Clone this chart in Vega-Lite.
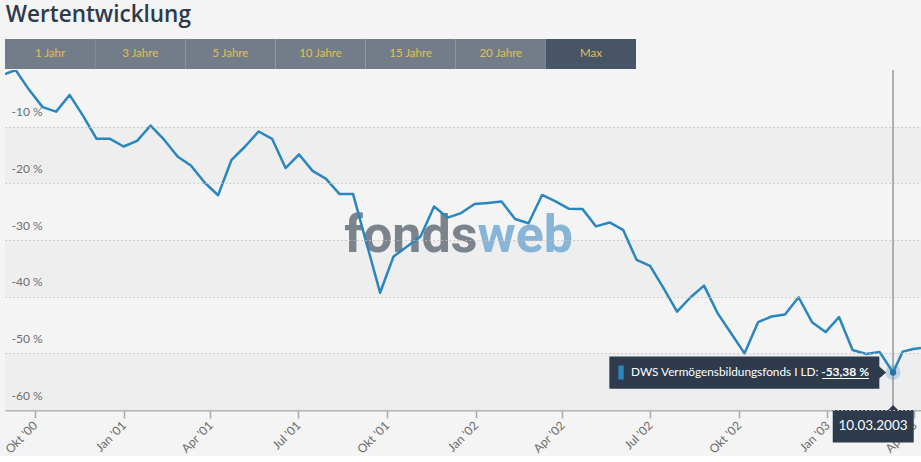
{
  "$schema": "https://vega.github.io/schema/vega-lite/v6.json",
  "background": "#f4f4f4",
  "padding": {"left": 2, "top": 4, "right": 0, "bottom": 0},
  "title": {"text": "Wertentwicklung", "anchor": "start", "font": "Open Sans", "fontSize": 22.5, "fontWeight": 600, "color": "#2d3a4b", "offset": 12.5, "dx": 3},
  "spacing": 0,
  "config": {"view": {"stroke": null}, "font": "Lato"},
  "datasets": {
    "buttons": [
      {"label": "1 Jahr", "state": "inaktiv"},
      {"label": "3 Jahre", "state": "inaktiv"},
      {"label": "5 Jahre", "state": "inaktiv"},
      {"label": "10 Jahre", "state": "inaktiv"},
      {"label": "15 Jahre", "state": "inaktiv"},
      {"label": "20 Jahre", "state": "inaktiv"},
      {"label": "Max", "state": "aktiv"}
    ],
    "bands": [
      {"top": -10, "bottom": -20},
      {"top": -30, "bottom": -40},
      {"top": -50, "bottom": -60}
    ],
    "series": [
      {"date": "2000-08-31", "value": -0.7},
      {"date": "2000-09-11", "value": 0.0},
      {"date": "2000-09-25", "value": -3.5},
      {"date": "2000-10-09", "value": -6.55},
      {"date": "2000-10-23", "value": -7.35},
      {"date": "2000-11-06", "value": -4.4},
      {"date": "2000-11-20", "value": -8.1},
      {"date": "2000-12-04", "value": -12.15},
      {"date": "2000-12-18", "value": -12.15},
      {"date": "2001-01-01", "value": -13.5},
      {"date": "2001-01-15", "value": -12.5},
      {"date": "2001-01-29", "value": -9.8},
      {"date": "2001-02-12", "value": -12.3},
      {"date": "2001-02-26", "value": -15.25},
      {"date": "2001-03-12", "value": -16.9},
      {"date": "2001-03-26", "value": -19.85},
      {"date": "2001-04-09", "value": -22.1},
      {"date": "2001-04-23", "value": -15.85},
      {"date": "2001-05-07", "value": -13.5},
      {"date": "2001-05-21", "value": -10.85},
      {"date": "2001-06-04", "value": -12.15},
      {"date": "2001-06-18", "value": -17.3},
      {"date": "2001-07-02", "value": -14.9},
      {"date": "2001-07-16", "value": -17.8},
      {"date": "2001-07-30", "value": -19.2},
      {"date": "2001-08-13", "value": -21.9},
      {"date": "2001-08-27", "value": -21.9},
      {"date": "2001-09-10", "value": -30.6},
      {"date": "2001-09-24", "value": -39.3},
      {"date": "2001-10-08", "value": -32.9},
      {"date": "2001-10-22", "value": -31.15},
      {"date": "2001-11-05", "value": -29.4},
      {"date": "2001-11-19", "value": -24.1},
      {"date": "2001-12-03", "value": -26.05},
      {"date": "2001-12-17", "value": -25.25},
      {"date": "2001-12-31", "value": -23.65},
      {"date": "2002-01-14", "value": -23.45},
      {"date": "2002-01-28", "value": -23.2},
      {"date": "2002-02-11", "value": -26.3},
      {"date": "2002-02-25", "value": -27.05},
      {"date": "2002-03-11", "value": -22.05},
      {"date": "2002-03-25", "value": -23.2},
      {"date": "2002-04-08", "value": -24.5},
      {"date": "2002-04-22", "value": -24.55},
      {"date": "2002-05-06", "value": -27.6},
      {"date": "2002-05-20", "value": -26.9},
      {"date": "2002-06-03", "value": -28.2},
      {"date": "2002-06-17", "value": -33.5},
      {"date": "2002-07-01", "value": -34.55},
      {"date": "2002-07-15", "value": -38.5},
      {"date": "2002-07-29", "value": -42.65},
      {"date": "2002-08-12", "value": -40.1},
      {"date": "2002-08-26", "value": -38.05},
      {"date": "2002-09-09", "value": -42.9},
      {"date": "2002-09-23", "value": -46.45},
      {"date": "2002-10-07", "value": -50.0},
      {"date": "2002-10-21", "value": -44.5},
      {"date": "2002-11-04", "value": -43.5},
      {"date": "2002-11-18", "value": -43.15},
      {"date": "2002-12-02", "value": -40.1},
      {"date": "2002-12-16", "value": -44.5},
      {"date": "2002-12-30", "value": -46.25},
      {"date": "2003-01-13", "value": -43.6},
      {"date": "2003-01-27", "value": -49.4},
      {"date": "2003-02-10", "value": -50.1},
      {"date": "2003-02-24", "value": -49.75},
      {"date": "2003-03-10", "value": -53.38},
      {"date": "2003-03-20", "value": -49.7},
      {"date": "2003-03-31", "value": -49.25},
      {"date": "2003-04-08", "value": -49.05}
    ],
    "hover": [
      {"date": "2003-03-10", "value": -53.38, "name": "DWS Vermögensbildungsfonds I LD:", "valueText": "-53,38 %", "dateText": "10.03.2003"}
    ]
  },
  "vconcat": [
    {
      "width": 631,
      "height": 30,
      "data": {"name": "buttons"},
      "encoding": {
        "x": {"field": "label", "type": "nominal", "sort": null, "scale": {"paddingInner": 0, "paddingOuter": 0}, "axis": null}
      },
      "layer": [
        {
          "mark": {"type": "rect"},
          "encoding": {
            "color": {"field": "state", "type": "nominal", "scale": {"domain": ["inaktiv", "aktiv"], "range": ["#737d89", "#475566"]}, "legend": null}
          }
        },
        {
          "mark": {"type": "text", "font": "Lato", "fontSize": 11.5, "color": "#e2bf55"},
          "encoding": {"text": {"field": "label"}}
        }
      ]
    },
    {
      "width": 916,
      "height": 340,
      "layer": [
        {
          "data": {"name": "bands"},
          "mark": {"type": "rect", "color": "#eeeeee"},
          "encoding": {
            "y": {
              "field": "top", "type": "quantitative",
              "scale": {"domain": [-60, 0], "nice": false, "zero": false},
              "axis": {
                "values": [-10, -20, -30, -40, -50, -60],
                "labelExpr": "datum.value + ' %'",
                "labelAlign": "left",
                "labelBaseline": "alphabetic",
                "labelPadding": -6,
                "labelOffset": -11,
                "ticks": false,
                "domain": false,
                "grid": true,
                "gridColor": "#c2c2c2",
                "gridDash": [1.5, 2.5],
                "gridWidth": 1,
                "labelColor": "#6e6e6e",
                "labelFontSize": 12,
                "labelFont": "Lato",
                "title": null,
                "zindex": 1
              }
            },
            "y2": {"field": "bottom"}
          }
        },
        {
          "data": {"values": [{"t": "fonds"}]},
          "mark": {"type": "text", "font": "Roboto", "fontWeight": "bold", "fontSize": 52, "align": "right", "baseline": "alphabetic", "color": "#7b838c"},
          "encoding": {
            "x": {"datum": {"year": 2002, "month": 1, "date": 3}, "type": "temporal"},
            "y": {"datum": -32.1, "type": "quantitative"},
            "text": {"field": "t"}
          }
        },
        {
          "data": {"values": [{"t": "web"}]},
          "mark": {"type": "text", "font": "Roboto", "fontWeight": "bold", "fontSize": 52, "align": "left", "baseline": "alphabetic", "color": "#86b5d7"},
          "encoding": {
            "x": {"datum": {"year": 2002, "month": 1, "date": 3}, "type": "temporal"},
            "y": {"datum": -32.1, "type": "quantitative"},
            "text": {"field": "t"}
          }
        },
        {
          "data": {"name": "series"},
          "mark": {"type": "line", "color": "#2a86bf", "strokeWidth": 2.5, "strokeJoin": "round", "clip": true},
          "encoding": {
            "x": {
              "field": "date", "type": "temporal",
              "scale": {"domain": [{"year": 2000, "month": 8, "date": 31}, {"year": 2003, "month": 4, "date": 8}]},
              "axis": {
                "values": [
                  {"year": 2000, "month": 10, "date": 1},
                  {"year": 2001, "month": 1, "date": 1},
                  {"year": 2001, "month": 4, "date": 1},
                  {"year": 2001, "month": 7, "date": 1},
                  {"year": 2001, "month": 10, "date": 1},
                  {"year": 2002, "month": 1, "date": 1},
                  {"year": 2002, "month": 4, "date": 1},
                  {"year": 2002, "month": 7, "date": 1},
                  {"year": 2002, "month": 10, "date": 1},
                  {"year": 2003, "month": 1, "date": 1},
                  {"year": 2003, "month": 4, "date": 1}
                ],
                "labelExpr": "(month(datum.value)==0?'Jan':month(datum.value)==3?'Apr':month(datum.value)==6?'Jul':'Okt') + \" '\" + timeFormat(datum.value,'%y')",
                "labelAngle": -45,
                "labelAlign": "right",
                "labelBaseline": "middle",
                "labelFontSize": 12,
                "labelFont": "Lato",
                "labelColor": "#6b6b6b",
                "labelPadding": 5,
                "domainColor": "#a9aeb4",
                "domainWidth": 2,
                "tickColor": "#a9aeb4",
                "tickWidth": 1.5,
                "tickSize": 8,
                "grid": false,
                "title": null
              }
            },
            "y": {"field": "value", "type": "quantitative", "title": null}
          }
        },
        {
          "data": {"name": "hover"},
          "mark": {"type": "rule", "color": "#7d8288", "strokeWidth": 1.2},
          "encoding": {"x": {"field": "date", "type": "temporal"}}
        },
        {
          "data": {"name": "hover"},
          "mark": {"type": "point", "filled": true, "size": 230, "color": "#2a86bf", "opacity": 0.25, "strokeWidth": 0},
          "encoding": {"x": {"field": "date", "type": "temporal"}, "y": {"field": "value", "type": "quantitative"}}
        },
        {
          "data": {"name": "hover"},
          "mark": {"type": "point", "filled": true, "size": 40, "color": "#2571a8", "opacity": 1, "strokeWidth": 0},
          "encoding": {"x": {"field": "date", "type": "temporal"}, "y": {"field": "value", "type": "quantitative"}}
        },
        {
          "data": {"name": "hover"},
          "mark": {"type": "point", "filled": true, "size": 40000, "color": "#2d3b4d", "opacity": 1, "strokeWidth": 0,
            "shape": "M-2.837,-0.16 L-0.137,-0.16 L-0.137,-0.06 L-0.07,0 L-0.137,0.06 L-0.137,0.163 L-2.837,0.163 Z"},
          "encoding": {"x": {"field": "date", "type": "temporal"}, "y": {"field": "value", "type": "quantitative"}}
        },
        {
          "data": {"name": "hover"},
          "mark": {"type": "point", "filled": true, "size": 40000, "color": "#2a86bf", "opacity": 1, "strokeWidth": 0,
            "shape": "M-2.747,-0.07 L-2.693,-0.07 L-2.693,0.07 L-2.747,0.07 Z"},
          "encoding": {"x": {"field": "date", "type": "temporal"}, "y": {"field": "value", "type": "quantitative"}}
        },
        {
          "data": {"name": "hover"},
          "mark": {"type": "text", "font": "Lato", "fontSize": 11.8, "color": "#ffffff", "align": "left", "baseline": "middle", "dx": -262},
          "encoding": {"x": {"field": "date", "type": "temporal"}, "y": {"field": "value", "type": "quantitative"}, "text": {"field": "name"}}
        },
        {
          "data": {"name": "hover"},
          "mark": {"type": "text", "font": "Lato", "fontSize": 12, "fontWeight": "bold", "color": "#ffffff", "align": "right", "baseline": "middle", "dx": -24},
          "encoding": {"x": {"field": "date", "type": "temporal"}, "y": {"field": "value", "type": "quantitative"}, "text": {"field": "valueText"}}
        },
        {
          "data": {"name": "hover"},
          "mark": {"type": "point", "filled": false, "size": 40000, "stroke": "#ffffff", "strokeWidth": 1, "opacity": 1,
            "shape": "M-0.71,0.06 L-0.24,0.06"},
          "encoding": {"x": {"field": "date", "type": "temporal"}, "y": {"field": "value", "type": "quantitative"}}
        },
        {
          "data": {"name": "hover"},
          "mark": {"type": "point", "filled": true, "size": 40000, "color": "#2d3b4d", "opacity": 1, "strokeWidth": 0,
            "shape": "M-0.603,0 L-0.05,0 L0,-0.05 L0.05,0 L0.207,0 L0.207,0.325 L-0.603,0.325 Z"},
          "encoding": {"x": {"field": "date", "type": "temporal"}, "y": {"datum": -60, "type": "quantitative"}}
        },
        {
          "data": {"name": "hover"},
          "mark": {"type": "text", "font": "Lato", "fontSize": 13.5, "color": "#ffffff", "align": "center", "baseline": "middle", "dx": -20, "dy": 16},
          "encoding": {"x": {"field": "date", "type": "temporal"}, "y": {"datum": -60, "type": "quantitative"}, "text": {"field": "dateText"}}
        }
      ]
    }
  ]
}
